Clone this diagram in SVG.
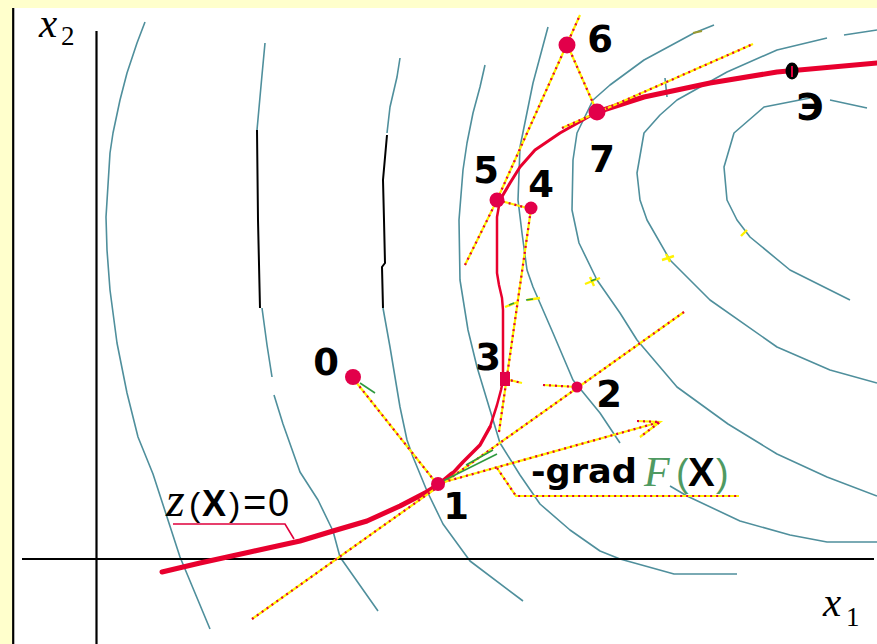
<svg xmlns="http://www.w3.org/2000/svg" xmlns:xlink="http://www.w3.org/1999/xlink" width="877" height="644" viewBox="0 0 877 644">
<style>
.c{fill:none;stroke:#4f8f9c;stroke-width:1.6;stroke-linejoin:round}
.k{fill:none;stroke:#000;stroke-width:2}
.ax{fill:none;stroke:#000;stroke-width:2.2}
.y{fill:none;stroke:#fff200;stroke-width:2.2}
.r{fill:none;stroke:#e0003c;stroke-width:2.2;stroke-dasharray:2 4}
.rc{fill:none;stroke:#e8002e;stroke-linejoin:round;stroke-linecap:round}
.g{fill:none;stroke:#2f9a40;stroke-width:1.6}
.gy{fill:none;stroke:#fff200;stroke-width:2.4}
.pt{fill:#e2004a}
.num{font-family:"DejaVu Sans",sans-serif;font-weight:bold;font-size:37px;fill:#000;text-anchor:middle}
.it{font-family:"Liberation Serif",serif;font-style:italic}
.ser{font-family:"Liberation Serif",serif}
.sans{font-family:"Liberation Sans",sans-serif}
</style>
<defs>
<path id="l1" d="M352,377 L437,484"/>
<path id="l2" d="M252,619 L684,312"/>
<path id="l3" d="M437,484 L660,422 M637,421 L660,422 L640,437"/>
<path id="l4" d="M497,468 L516,496 L739,496"/>
<path id="l5" d="M505,379 L522,383 M543,385 L577,387"/>
<path id="l6" d="M499,432 L531,209"/>
<path id="l7" d="M465,265 L497,200 L567,44 L580,15"/>
<path id="l8" d="M497,200 L531,209"/>
<path id="l9" d="M567,44 L597,112"/>
<path id="l10" d="M562,128 L753,44"/>
</defs>
<rect x="0" y="0" width="877" height="644" fill="#ffffcc"/>
<rect x="13" y="8" width="864" height="636" fill="#ffffff"/>
<line x1="13.2" y1="8" x2="13.2" y2="644" stroke="#000" stroke-width="2.2"/>

<g id="contours">
<path class="c" d="M145,22 L137,43 L127,73 L120,100 L113,133 L110,153 L106,217 L107,250 L110,290 L117,343 L127,393 L138,437 L153,474 L180,557 L210,629"/>
<path class="c" d="M265,43 L262,75 L257,130"/>
<path class="k" d="M257,130 L258,220 L260,308"/>
<path class="c" d="M262,308 L267,345 L272,377 M274,395 L283,424 L300,472 L318,500 L333,531 L340,557 L378,611"/>
<path class="c" d="M400,58 L397,77 L390,107 L387,133"/>
<path class="k" d="M387,135 L383,180 L384,220 L385,263 L382,267 L383,308"/>
<path class="c" d="M383,308 L390,347 L400,407 L407,440 L413,457 L427,491 L443,524 L470,561 L523,601"/>
<path class="c" d="M485,65 L480,87 L473,113 L467,143 L463,170 L459,220 L460,280 L468,330 L477,367 L490,410 L500,443 L520,475 L540,504 L570,530 L600,551 L620,559 L674,574 L737,574"/>
<path class="c" d="M548,27 L533,83 L520,147 L518,200 L522,233 L527,270 L533,287 L553,333 L573,380 L600,413 L620,443 M670,486 L687,496 L740,521 L790,535 L827,542 L877,542"/>
<path class="c" d="M714,25 L694,33 L644,60 L610,85 L593,100 L577,133 L573,160 L572,210 L579,243 L597,280 L620,313 L637,340 L677,387 L728,424 L777,454 L827,477 L877,496"/>
<path class="c" d="M877,30 L844,35 M827,38 L777,50 L727,72 L677,100 L660,115 L644,133 L637,173 L640,200 L647,220 L670,260 L710,300 L777,347 L830,370 L877,383"/>
<path class="c" d="M867,108 L830,100 M810,98 L764,107 L734,133 L724,167 L727,200 L737,220 L750,237 L790,270 L850,300"/>
<path class="c" d="M665,78 L667,97"/>
</g>

<g id="axes">
<line class="ax" x1="96.5" y1="31" x2="96.5" y2="644"/>
<line class="ax" x1="22" y1="559" x2="874" y2="559"/>
</g>

<g id="constraint">
<path class="rc" stroke-width="5" d="M162,572 L200,563 L250,552 L300,541 L333,531 L367,521 L400,506 L427,492 L440,484 L452,474"/>
<path class="rc" stroke-width="3.5" d="M452,474 L463,462 L480,445 L490,427"/>
<path class="rc" stroke-width="2.5" d="M490,427 L497,405 L501,390 L503,380 L503,310 L502,298 L499,285 L497,273 L497,217 L500,200"/>
<path class="rc" stroke-width="3" d="M500,200 L510,183 L520,167 L535,150 L560,133 L583,120 L597,112"/>
<path class="rc" stroke-width="5" d="M597,112 L644,97 L710,83 L777,72 L877,63"/>
<path fill="none" stroke="#e0003c" stroke-width="1.6" d="M173,524 L285,524 L294,539"/>
</g>

<g id="connectors">
<use xlink:href="#l1" class="y"/><use xlink:href="#l1" class="r"/>
<use xlink:href="#l2" class="y"/><use xlink:href="#l2" class="r"/>
<use xlink:href="#l3" class="y"/><use xlink:href="#l3" class="r"/>
<use xlink:href="#l4" class="y"/><use xlink:href="#l4" class="r"/>
<use xlink:href="#l5" class="y"/><use xlink:href="#l5" class="r"/>
<use xlink:href="#l6" class="y"/><use xlink:href="#l6" class="r"/>
<use xlink:href="#l7" class="y"/><use xlink:href="#l7" class="r"/>
<use xlink:href="#l8" class="y"/><use xlink:href="#l8" class="r"/>
<use xlink:href="#l9" class="y"/><use xlink:href="#l9" class="r"/>
<use xlink:href="#l10" class="y"/><use xlink:href="#l10" class="r"/>
</g>

<g id="markers">
<path class="g" d="M360,383 L375,393"/>
<path class="g" d="M443,481 L497,454 M466,465 L493,450"/>
<path class="gy" d="M505,307 L518,302"/><path class="g" d="M509,305 L514,303"/>
<path class="gy" d="M527,300 L540,298"/><path class="g" d="M526,300 L533,299"/>
<path class="gy" d="M585,284 L600,278 M590,277 L594,286"/><path class="g" d="M591,281 L596,279"/>
<path class="gy" d="M662,260 L674,256 M666,254 L670,262"/>
<path class="gy" d="M741,236 L747,230"/>
<path fill="none" stroke="#9a9a30" stroke-width="2" d="M693,33 L702,31"/>
</g>

<g id="p0"><circle class="pt" cx="353" cy="377" r="8"/><text class="num" x="326" y="375">0</text></g>
<g id="p1"><circle class="pt" cx="438" cy="484" r="7"/><text class="num" x="456" y="519">1</text></g>
<g id="p2"><circle class="pt" cx="577" cy="387" r="5.5"/><text class="num" x="609" y="407">2</text></g>
<g id="p3"><rect class="pt" x="500" y="372" width="10" height="14"/><text class="num" x="488" y="370">3</text></g>
<g id="p4"><circle class="pt" cx="531" cy="208" r="6.5"/><text class="num" x="541" y="197">4</text></g>
<g id="p5"><circle class="pt" cx="497" cy="200" r="7.5"/><text class="num" x="486" y="183">5</text></g>
<g id="p6"><circle class="pt" cx="567" cy="45" r="8.5"/><text class="num" x="600" y="52">6</text></g>
<g id="p7"><circle class="pt" cx="597" cy="112" r="8.5"/><text class="num" x="602" y="172">7</text></g>
<g id="pE"><ellipse cx="792" cy="71" rx="6.5" ry="8.5" fill="#000"/><line x1="792" y1="66" x2="792" y2="77" stroke="#e0003c" stroke-width="2"/><text class="num" x="810" y="120">Э</text></g>

<g id="label-grad">
<text x="531" y="483" font-family="DejaVu Sans, sans-serif" font-weight="bold" font-size="34" textLength="106" lengthAdjust="spacingAndGlyphs">-grad</text>
<text y="486"><tspan class="it" x="644" font-size="42" fill="#4f9a62">F</tspan><tspan class="sans" x="676" font-size="38" fill="#4f9a62">(</tspan><tspan class="sans" x="688" font-size="40" font-weight="bold" fill="#000">X</tspan><tspan class="sans" x="716" font-size="38" fill="#4f9a62">)</tspan></text>
</g>

<g id="label-z">
<text y="516"><tspan class="it" x="166" font-size="48">z</tspan><tspan class="sans" x="189" font-size="34">(</tspan><tspan class="sans" x="202" font-size="36" font-weight="bold">X</tspan><tspan class="sans" x="229" font-size="34">)</tspan><tspan class="sans" x="243" font-size="40">=</tspan><tspan class="sans" x="268" font-size="38">0</tspan></text>
</g>

<g id="axis-labels">
<text y="37"><tspan class="it" x="39" font-size="41">x</tspan><tspan class="ser" x="61" y="45" font-size="27">2</tspan></text>
<text y="616"><tspan class="it" x="823" font-size="41">x</tspan><tspan class="ser" x="846" y="626" font-size="27">1</tspan></text>
</g>
</svg>
